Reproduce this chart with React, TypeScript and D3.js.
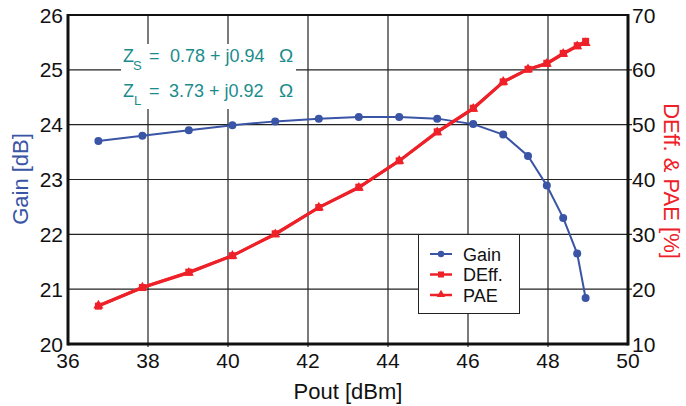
import React from "react";
import * as d3 from "d3";

const pout = [36.76, 37.86, 39.02, 40.11, 41.18, 42.27, 43.27, 44.28, 45.23, 46.13, 46.88, 47.5, 47.97, 48.38, 48.73, 48.94];
const gain = [23.7, 23.8, 23.9, 23.99, 24.06, 24.11, 24.14, 24.14, 24.11, 24.01, 23.82, 23.43, 22.89, 22.3, 21.65, 20.84];
const deff = [16.9, 20.3, 23.1, 26.1, 30.1, 34.9, 38.6, 43.4, 48.7, 53.0, 57.8, 60.1, 61.2, 63.0, 64.4, 65.2];
const pae = [17.0, 20.3, 23.0, 26.1, 30.0, 34.9, 38.5, 43.4, 48.6, 52.9, 57.8, 60.1, 61.1, 62.9, 64.3, 64.9];
const xTicks = [36, 38, 40, 42, 44, 46, 48, 50];
const yLTicks = [20, 21, 22, 23, 24, 25, 26];
const yRTicks = [10, 20, 30, 40, 50, 60, 70];
const legendItems = ["Gain", "DEff.", "PAE"];

const BLUE = "#3a54a6";
const RED = "#ee2028";
const TEAL = "#1b8c8c";
const FONT = "Liberation Sans, Arial, Helvetica, sans-serif";

export default function App() {
  const L = 68, R = 628, T = 15, B = 344;
  const x = d3.scaleLinear().domain([36, 50]).range([L, R]);
  const yL = d3.scaleLinear().domain([20, 26]).range([B, T]);
  const yR = d3.scaleLinear().domain([10, 70]).range([B, T]);

  const gainLine = d3.line<number>().x((_, i) => x(pout[i])).y((d) => yL(d));
  const effLine = d3.line<number>().x((_, i) => x(pout[i])).y((d) => yR(d));
  const tri = d3.symbol().type(d3.symbolTriangle).size(44)();

  return (
    <svg width={686} height={406} style={{ position: "absolute", left: 0, top: 0 }} fontFamily={FONT}>
      <rect x={0} y={0} width={686} height={406} fill="white" />
      {/* grid */}
      {xTicks.slice(1, -1).map((t) => (
        <line key={"gx" + t} x1={x(t)} x2={x(t)} y1={T} y2={B + 3} stroke="#222" strokeWidth={1.2} />
      ))}
      {yLTicks.slice(1, -1).map((t) => (
        <line key={"gy" + t} x1={L} x2={R + 4} y1={yL(t)} y2={yL(t)} stroke="#222" strokeWidth={1.2} />
      ))}
      {/* annotation background */}
      <rect x={121} y={44} width={175} height={65} fill="white" />
      {/* frame */}
      <line x1={L} x2={R} y1={T} y2={T} stroke="#111" strokeWidth={2} />
      <line x1={L} x2={L} y1={T - 1} y2={B + 1.5} stroke="#111" strokeWidth={3} />
      <line x1={R} x2={R} y1={T - 1} y2={B + 1.5} stroke="#111" strokeWidth={3} />
      <line x1={L} x2={R} y1={B} y2={B} stroke="#111" strokeWidth={3} />

      {/* tick labels */}
      {xTicks.map((t) => (
        <text key={"xt" + t} x={x(t)} y={368} fontSize={21} textAnchor="middle" fill="#111">{t}</text>
      ))}
      {yLTicks.map((t) => (
        <text key={"yl" + t} x={63} y={yL(t) + 7.5} fontSize={21} textAnchor="end" fill="#111">{t}</text>
      ))}
      {yRTicks.map((t) => (
        <text key={"yr" + t} x={632} y={yR(t) + 7.5} fontSize={21} textAnchor="start" fill="#111">{t}</text>
      ))}

      {/* axis titles */}
      <text x={348} y={399} fontSize={22} textAnchor="middle" fill="#111">Pout [dBm]</text>
      <text transform={`translate(28,179) rotate(-90)`} fontSize={22} textAnchor="middle" fill={BLUE}>Gain [dB]</text>
      <text transform={`translate(664,181) rotate(90)`} fontSize={22} textAnchor="middle" fill={RED}>DEff. &amp; PAE [%]</text>

      {/* annotation */}
      <g fill={TEAL} fontSize={18}>
        <text x={123} y={62}>Z</text>
        <text x={133} y={70} fontSize={13}>S</text>
        <text x={149} y={62}>=</text>
        <text x={170} y={62}>0.78 + j0.94</text>
        <text x={279} y={62} fontSize={19}>Ω</text>
        <text x={123} y={97}>Z</text>
        <text x={134} y={105} fontSize={13}>L</text>
        <text x={149} y={97}>=</text>
        <text x={169} y={97}>3.73 + j0.92</text>
        <text x={279} y={97} fontSize={19}>Ω</text>
      </g>

      {/* gain */}
      <path d={gainLine(gain) || ""} fill="none" stroke={BLUE} strokeWidth={2} />
      {gain.map((g, i) => (
        <circle key={"gc" + i} cx={x(pout[i])} cy={yL(g)} r={4} fill={BLUE} />
      ))}
      {/* PAE */}
      <path d={effLine(pae) || ""} fill="none" stroke={RED} strokeWidth={3} />
      {pae.map((v, i) => (
        <path key={"pt" + i} d={tri || ""} transform={`translate(${x(pout[i])},${yR(v)})`} fill={RED} />
      ))}
      {/* DEff */}
      <path d={effLine(deff) || ""} fill="none" stroke={RED} strokeWidth={3} />
      {deff.map((v, i) => (
        <rect key={"ds" + i} x={x(pout[i]) - 3.5} y={yR(v) - 3.5} width={7} height={7} fill={RED} />
      ))}

      {/* legend */}
      <rect x={418.5} y={234.5} width={101} height={79} fill="white" stroke="#222" strokeWidth={1} />
      {legendItems.map((name, i) => {
        const cy = 254 + i * 20.5;
        const col = i === 0 ? BLUE : RED;
        return (
          <g key={name}>
            <line x1={430} x2={452} y1={cy} y2={cy} stroke={col} strokeWidth={i === 0 ? 2 : 2.5} />
            {i === 0 && <circle cx={441} cy={cy} r={3.2} fill={col} />}
            {i === 1 && <rect x={438} y={cy - 3} width={6} height={6} fill={col} />}
            {i === 2 && <path d={d3.symbol().type(d3.symbolTriangle).size(30)() || ""} transform={`translate(441,${cy - 0.5})`} fill={col} />}
            <text x={463} y={cy + 6.5} fontSize={18} fill="#111">{name}</text>
          </g>
        );
      })}
    </svg>
  );
}
